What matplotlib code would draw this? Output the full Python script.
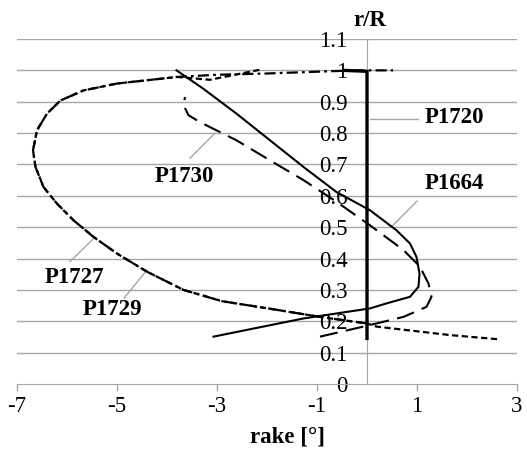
import matplotlib
matplotlib.use("Agg")
import matplotlib.pyplot as plt

plt.rcParams['font.family'] = ['Liberation Serif', 'DejaVu Serif']
plt.rcParams['lines.scale_dashes'] = False

# ---- data (rake [deg], r/R) ----
p1720_rake = [0.0, 0.0, 0.0, 0.0, 0.0, 0.0, -0.47]
p1720_r = [0.14, 0.2, 0.4, 0.6, 0.8, 0.997, 1.0]

p1664_rake = [-3.07, -1.27, 0.06, 0.39, 0.86, 1.03, 1.05, 0.99, 0.86, 0.59, 0.06, -0.61, -1.27, -1.94, -2.61, -3.27, -3.81]
p1664_r = [0.151, 0.209, 0.241, 0.257, 0.278, 0.31, 0.352, 0.405, 0.448, 0.49, 0.554, 0.612, 0.692, 0.777, 0.862, 0.941, 1.0]

p1730_rake = [-0.94, 0.06, 0.73, 1.19, 1.29, 1.23, 1.06, 0.73, 0.06, -0.61, -1.27, -1.94, -2.61, -3.34, -3.57, -3.67, -3.64]
p1730_r = [0.151, 0.188, 0.214, 0.246, 0.278, 0.32, 0.374, 0.427, 0.506, 0.581, 0.65, 0.713, 0.777, 0.835, 0.857, 0.889, 0.915]

p1727_rake = [0.0, -0.94, -1.94, -2.9, -3.67, -4.4, -5.0, -5.47, -5.87, -6.2, -6.47, -6.63, -6.68, -6.6, -6.4, -6.13, -5.67, -5.0, -3.8, -3.0, -2.0, -0.6, 0.0, 0.52]
p1727_r = [0.193, 0.214, 0.240, 0.264, 0.30, 0.358, 0.416, 0.469, 0.522, 0.575, 0.628, 0.692, 0.745, 0.809, 0.862, 0.904, 0.936, 0.958, 0.979, 0.986, 0.99, 0.998, 1.0, 1.0]

p1729_rake = [2.6, 1.66, 0.19, 0.0, -0.94, -1.94, -2.9, -3.67, -4.4, -5.0, -5.47, -5.87, -6.2, -6.47, -6.63, -6.68, -6.6, -6.4, -6.13, -5.67, -5.0, -3.8, -3.14, -2.14]
p1729_r = [0.143, 0.156, 0.183, 0.193, 0.214, 0.240, 0.264, 0.30, 0.358, 0.416, 0.469, 0.522, 0.575, 0.628, 0.692, 0.745, 0.809, 0.862, 0.904, 0.936, 0.958, 0.979, 0.970, 1.002]

x_ticks = [-7, -5, -3, -1, 1, 3]
y_ticks = [0, 0.1, 0.2, 0.3, 0.4, 0.5, 0.6, 0.7, 0.8, 0.9, 1.0, 1.1]
y_ticklabels = ['0', '0.1', '0.2', '0.3', '0.4', '0.5', '0.6', '0.7', '0.8', '0.9', '1', '1.1']

W, H = 527, 455
fig = plt.figure(figsize=(W / 100, H / 100), dpi=100)
ax = fig.add_axes([17 / W, 1 - 384 / H, 500 / W, 345 / H])

grid_c = '#A6A6A6'
for y in y_ticks[1:]:
    ax.axhline(y, color=grid_c, lw=1.0, zorder=1)

ax.plot(p1729_rake, p1729_r, color='black', lw=1.6, dashes=(4.5, 2.5), zorder=3)
ax.plot(p1727_rake, p1727_r, color='black', lw=1.6, dashes=(8, 3, 2, 3), zorder=3)
ax.plot(p1730_rake, p1730_r, color='black', lw=1.5, dashes=(13, 6), zorder=3)
ax.plot(p1664_rake, p1664_r, color='black', lw=1.5, zorder=3)
ax.plot(p1720_rake, p1720_r, color='black', lw=2.4, zorder=4, solid_capstyle='butt')

ax.set_xlim(-7, 3)
ax.set_ylim(0, 1.1)
for s in ['top', 'right']:
    ax.spines[s].set_visible(False)
ax.spines['left'].set_position(('data', 0))
ax.spines['left'].set_color(grid_c)
ax.spines['left'].set_zorder(2)
ax.spines['bottom'].set_color(grid_c)
ax.set_xticks(x_ticks)
ax.set_xticklabels([str(v) for v in x_ticks], fontfamily='Liberation Serif')
ax.set_yticks(y_ticks)
ax.set_yticklabels(y_ticklabels, fontfamily='Liberation Serif')
ax.tick_params(axis='x', direction='out', length=5, width=1, color=grid_c, labelsize=16.5, pad=4)
ax.tick_params(axis='y', length=0, labelsize=16.5, pad=14)
for lbl in ax.get_yticklabels():
    lbl.set_zorder(2)

# annotations
lead_c = '#A6A6A6'
labels = [
    ('P1720', (1.74, 0.85), [(0.06, 0.844), (1.02, 0.844)]),
    ('P1664', (1.74, 0.64), [(1.0, 0.583), (0.5, 0.503)]),
    ('P1730', (-3.66, 0.66), [(-3.04, 0.80), (-3.54, 0.72)]),
    ('P1727', (-5.86, 0.341), [(-5.46, 0.465), (-5.94, 0.39)]),
    ('P1729', (-5.1, 0.239), [(-4.4, 0.363), (-4.86, 0.274)]),
]
for txt, (tx, ty), seg in labels:
    ax.plot([seg[0][0], seg[1][0]], [seg[0][1], seg[1][1]], color=lead_c, lw=1.0, zorder=2)
    ax.text(tx, ty, txt, fontsize=16.5, fontweight='bold', ha='center', va='center', zorder=5)

fig.text(370 / W, 1 - 21 / H, 'r/R', fontsize=16.5, fontweight='bold', ha='center', va='center')
fig.text(288 / W, 1 - 437 / H, 'rake [°]', fontsize=16.5, fontweight='bold', ha='center', va='center')

fig.savefig('out.png', dpi=100)
